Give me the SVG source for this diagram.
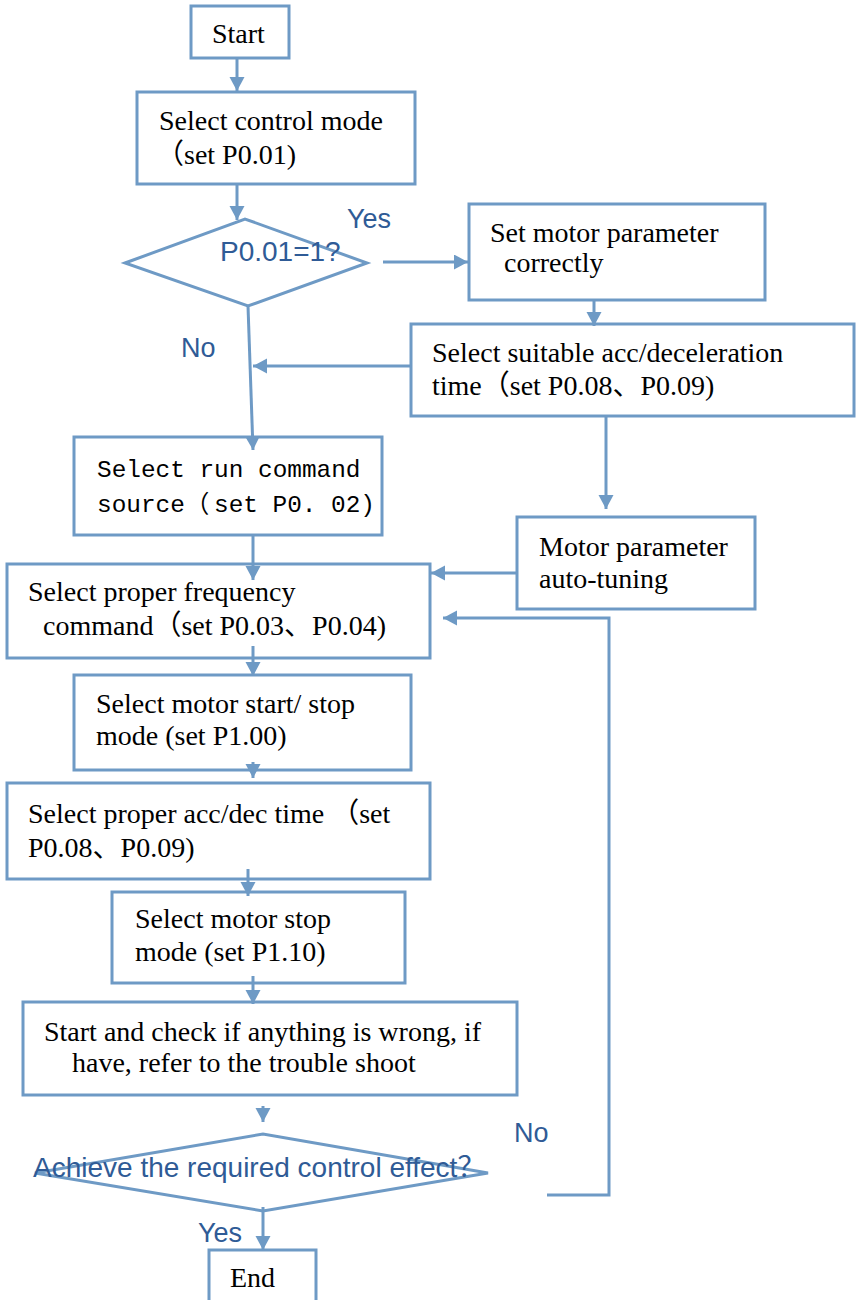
<svg xmlns="http://www.w3.org/2000/svg" width="858" height="1300" viewBox="0 0 858 1300">
<style>
.box{fill:#ffffff;stroke:#6e9ac5;stroke-width:3}
.dia{fill:#ffffff;stroke:#6e9ac5;stroke-width:3}
.t{font-family:"Liberation Serif","Noto Sans CJK SC",serif;font-size:28px;fill:#000000}
.m{font-family:"Liberation Mono","Noto Sans CJK SC",monospace;font-size:24.4px;fill:#000000}
.lb{font-family:"Liberation Sans","Noto Sans CJK SC",sans-serif;font-size:27px;fill:#2f5b96}
.dt{font-family:"Liberation Sans","Noto Sans CJK SC",sans-serif;font-size:28px;fill:#2f5b96}
.c{fill:none;stroke:#6e9ac5;stroke-width:3;marker-end:url(#ah)}
.cn{fill:none;stroke:#6e9ac5;stroke-width:3}
</style>
<defs>
<marker id="ah" markerUnits="userSpaceOnUse" markerWidth="16" markerHeight="16" refX="14" refY="7.5" orient="auto">
<path d="M0,0 L14,7.5 L0,15 z" fill="#6e9ac5"/>
</marker>
</defs>
<rect width="858" height="1300" fill="#ffffff"/>

<g id="start"><rect class="box" x="191" y="6" width="98" height="52"/><text class="t" x="212" y="43">Start</text></g>
<g id="control-mode"><rect class="box" x="137" y="92" width="278" height="92"/><text class="t" x="159" y="130">Select control mode</text><text class="t" x="156" y="164">（set P0.01)</text></g>
<g id="decision1"><polygon class="dia" points="125,263 245,219 367,263 248,306"/><text class="dt" x="220" y="261">P0.01=1?</text></g>
<g id="set-motor"><rect class="box" x="469" y="204" width="296" height="96"/><text class="t" x="490" y="242">Set motor parameter</text><text class="t" x="504" y="272">correctly</text></g>
<g id="acc-dec-1"><rect class="box" x="411" y="324" width="443" height="92"/><text class="t" x="432" y="362">Select suitable acc/deceleration</text><text class="t" x="432" y="395">time（set P0.08、P0.09)</text></g>
<g id="auto-tuning"><rect class="box" x="517" y="517" width="238" height="92"/><text class="t" x="539" y="556">Motor parameter</text><text class="t" x="539" y="588">auto-tuning</text></g>
<g id="run-command"><rect class="box" x="74" y="437" width="308" height="98"/><text class="m" x="97" y="477">Select run command</text><text class="m" y="512"><tspan x="97">source</tspan><tspan x="185">（</tspan><tspan x="214">set P0. 02)</tspan></text></g>
<g id="frequency"><rect class="box" x="7" y="564" width="423" height="94"/><text class="t" x="28" y="601">Select proper frequency</text><text class="t" x="43" y="635">command（set P0.03、P0.04)</text></g>
<g id="start-stop"><rect class="box" x="74" y="675" width="337" height="95"/><text class="t" x="96" y="713">Select motor start/ stop</text><text class="t" x="96" y="745">mode (set P1.00)</text></g>
<g id="acc-dec-2"><rect class="box" x="7" y="783" width="423" height="96"/><text class="t" x="28" y="823">Select proper acc/dec time （set</text><text class="t" x="28" y="857">P0.08、P0.09)</text></g>
<g id="stop-mode"><rect class="box" x="112" y="892" width="293" height="91"/><text class="t" x="135" y="928">Select motor stop</text><text class="t" x="135" y="961">mode (set P1.10)</text></g>
<g id="check"><rect class="box" x="23" y="1002" width="494" height="93"/><text class="t" x="44" y="1041">Start and check if anything is wrong, if</text><text class="t" x="72" y="1072">have, refer to the trouble shoot</text></g>
<g id="decision2"><polygon class="dia" points="35,1173 263,1134 488,1173 263,1211"/><text class="dt" x="33" y="1177">Achieve the required control effect？</text></g>
<g id="end"><rect class="box" x="209" y="1250" width="107" height="52"/><text class="t" x="230" y="1287">End</text></g>

<g id="connectors">
<path class="c" d="M237,58 V91"/>
<path class="c" d="M237,184 V220"/>
<path class="c" d="M383,262 H468"/>
<path class="c" d="M594,300 V326"/>
<path class="c" d="M411,366 H253"/>
<path class="c" d="M248,306 L253,450"/>
<path class="c" d="M606,416 V509"/>
<path class="c" d="M517,573 H431"/>
<path class="c" d="M253,535 V580"/>
<path class="c" d="M253,646 V676"/>
<path class="c" d="M253,762 V778"/>
<path class="c" d="M248,869 V896"/>
<path class="c" d="M253,976 V1004"/>
<path class="c" d="M263,1106 V1122"/>
<path class="c" d="M263,1207 V1250"/>
<path class="c" d="M547,1195 H609 V618 H443"/>
<text class="lb" x="347" y="228">Yes</text>
<text class="lb" x="181" y="357">No</text>
<text class="lb" x="514" y="1142">No</text>
<text class="lb" x="198" y="1242">Yes</text>
</g>
</svg>
